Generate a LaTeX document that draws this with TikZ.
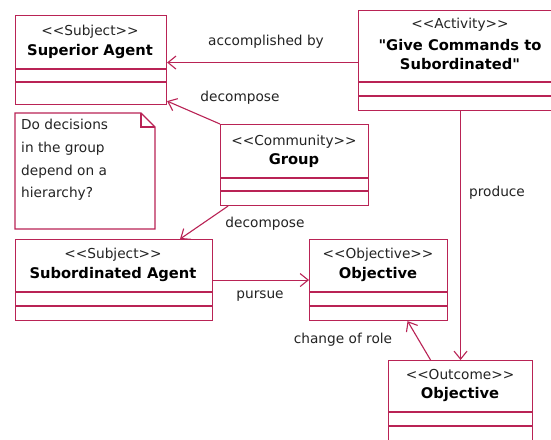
\documentclass[tikz,border=0pt]{standalone}
\usepackage{fontspec}
\setmainfont{DejaVu Sans}
\newfontfamily\djv{DejaVu Sans}
\usetikzlibrary{arrows.meta,calc}
\definecolor{umlred}{RGB}{185,35,85}
\definecolor{txt}{RGB}{35,35,35}
\newcommand{\ster}[1]{<<#1>>}
\begin{document}
\begin{tikzpicture}[x=1pt,y=-1pt,
  cls/.style={draw=umlred, line width=1.1pt, fill=white, inner sep=0pt, anchor=north west},
  divl/.style={draw=umlred, line width=1.1pt},
  stereo/.style={font=\djv\fontsize{13.7}{16}\selectfont, text=txt, inner sep=0pt},
  ttl/.style={font=\djv\bfseries\fontsize{14.7}{18}\selectfont, text=black, inner sep=0pt, align=center},
  lbl/.style={font=\djv\fontsize{13.7}{16}\selectfont, text=txt, inner sep=0pt},
  arr/.style={draw=umlred, line width=1.1pt, -{Straight Barb[length=8pt, width=13pt, line width=1.1pt]}}]
\useasboundingbox (0,0) rectangle (551,439);
\clip (0,0) rectangle (551,439);
\fill[white] (0,0) rectangle (551,439);

% Superior Agent
\node[cls, minimum width=151pt, minimum height=89pt] (sup) at (15,15) {};
\draw[divl] ([yshift=-54pt]sup.north west) -- ([yshift=-54pt]sup.north east);
\draw[divl] ([yshift=-67pt]sup.north west) -- ([yshift=-67pt]sup.north east);
\node[stereo] (supS) at (90,32) {\ster{Subject}};
\node[ttl] (supT) at (90,52) {Superior Agent};

% Activity
\node[cls, minimum width=204pt, minimum height=100pt] (act) at (358,10) {};
\draw[divl] ([yshift=-72pt]act.north west) -- ([yshift=-72pt]act.north east);
\draw[divl] ([yshift=-86pt]act.north west) -- ([yshift=-86pt]act.north east);
\node[stereo] (actS) at (460,25) {\ster{Activity}};
\node[ttl] (actT1) at (460,45) {"Give Commands to};
\node[ttl] (actT2) at (460,64) {Subordinated"};

% Group
\node[cls, minimum width=148pt, minimum height=81pt] (grp) at (220,124) {};
\draw[divl] ([yshift=-54pt]grp.north west) -- ([yshift=-54pt]grp.north east);
\draw[divl] ([yshift=-67pt]grp.north west) -- ([yshift=-67pt]grp.north east);
\node[stereo] (grpS) at (294,142) {\ster{Community}};
\node[ttl] (grpT) at (294,161) {Group};

% Subordinated Agent
\node[cls, minimum width=197pt, minimum height=81pt] (sub) at (15,239) {};
\draw[divl] ([yshift=-53pt]sub.north west) -- ([yshift=-53pt]sub.north east);
\draw[divl] ([yshift=-67pt]sub.north west) -- ([yshift=-67pt]sub.north east);
\node[stereo] (subS) at (113,255) {\ster{Subject}};
\node[ttl] (subT) at (113,274) {Subordinated Agent};

% Objective
\node[cls, minimum width=138pt, minimum height=81pt] (obj) at (309,239) {};
\draw[divl] ([yshift=-53pt]obj.north west) -- ([yshift=-53pt]obj.north east);
\draw[divl] ([yshift=-67pt]obj.north west) -- ([yshift=-67pt]obj.north east);
\node[stereo] (objS) at (378,255) {\ster{Objective}};
\node[ttl] (objT) at (378,274) {Objective};

% Outcome
\node[cls, minimum width=144pt, minimum height=100pt] (out) at (388,360) {};
\draw[divl] ([yshift=-52pt]out.north west) -- ([yshift=-52pt]out.north east);
\draw[divl] ([yshift=-66pt]out.north west) -- ([yshift=-66pt]out.north east);
\node[stereo] (outS) at (460,375) {\ster{Outcome}};
\node[ttl] (outT) at (460,394) {Objective};

% Note
\draw[umlred, line width=1.1pt, fill=white] (15,113) -- (141,113) -- (155,127) -- (155,229) -- (15,229) -- cycle;
\draw[umlred, line width=1.1pt] (141,113) -- (141,127) -- (155,127);
\node[lbl, anchor=north west, align=left, font=\djv\fontsize{13.7}{22.7}\selectfont] (note) at (21,119)
  {Do decisions\\in the group\\depend on a\\hierarchy?};

% Connectors
\draw[arr] ([yshift=-2pt]act.west) -- ([yshift=-2pt]act.west -| sup.east);
\node[lbl] (lacc) at (266,42) {accomplished by};

\draw[arr] (grp.north west) -- ([yshift=4pt]sup.south east);
\node[lbl] (ldec1) at (240,98) {decompose};

\draw[arr] ([xshift=8pt]grp.south west) -- ([xshift=66pt]sub.north);
\node[lbl] (ldec2) at (265,224) {decompose};

\draw[arr] (sub.east) -- (sub.east -| obj.west);
\node[lbl] (lpur) at (260,296) {pursue};

\draw[arr] (act.south) -- (act.south |- out.north);
\node[lbl] (lpro) at (497,193) {produce};

\draw[arr] ([xshift=-30pt]out.north) -- ([xshift=29pt]obj.south);
\node[lbl] (lrole) at (343,340) {change of role};
\end{tikzpicture}
\end{document}
